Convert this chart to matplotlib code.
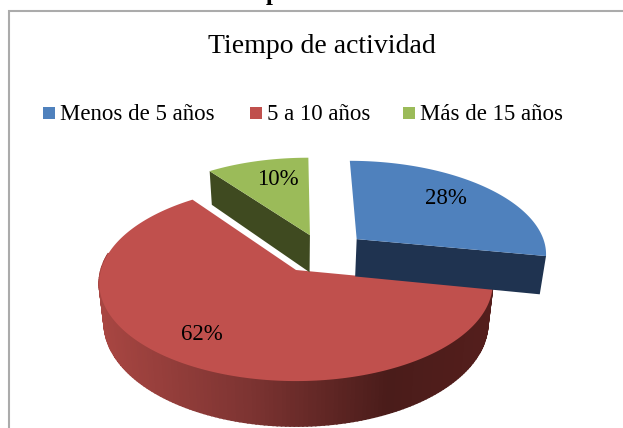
import numpy as np
import matplotlib
matplotlib.use('Agg')
import matplotlib.pyplot as plt
from matplotlib.patches import Polygon, Rectangle

plt.rcParams['font.family'] = 'Liberation Serif'

categories = ['Menos de 5 años', '5 a 10 años', 'Más de 15 años']
values = [28, 62, 10]
labels = ['28%', '62%', '10%']
title = 'Tiempo de actividad'
clipped_heading = 'Tiempo de actividad'

top_colors = ['#4F81BD', '#C0504D', '#9BBB59']
side_colors = ['#1F3350', '#7A2E2B', '#3F4A20']

# explosion of each slice on the unit disc
offsets = [(0.325, 0.335), (0, 0), (0.075, 0.38)]
label_pos = [(446, 198), (202, 335), (278, 179)]

# perspective of the disc
cx, cy = 296, 270
rx, ry = 195, 96.3
k = 0.133
depth = 39


def project(u, v, z=0):
    w = 1 + k * v
    x = cx + rx * u / w * (1 - 0.025 * z)
    y = cy - ry * v / w + depth * z / w
    return np.column_stack([x, y])


def slice_angles():
    edges = 90 - np.cumsum([0] + values) * 3.6
    return [(edges[i], edges[i + 1]) for i in range(len(values))]


def arc(a0, a1, off, z=0):
    t = np.radians(np.linspace(a0, a1, 200))
    return project(off[0] + np.cos(t), off[1] + np.sin(t), z)


def apex(off, z=0):
    return project(np.array([off[0]]), np.array([off[1]]), z)


def wall_color(x):
    # shading of the red outer wall, left to right
    stops_x = [100, 250, 390, 490]
    r = np.interp(x, stops_x, [168, 125, 74, 84])
    g = np.interp(x, stops_x, [70, 52, 28, 30])
    b = np.interp(x, stops_x, [66, 50, 26, 28])
    return (r / 255, g / 255, b / 255)


fig = plt.figure(figsize=(6.23, 4.28), dpi=100)
ax = fig.add_axes([0, 0, 1, 1])
ax.set_xlim(0, 623)
ax.set_ylim(428, 0)
ax.axis('off')

ax.text(320, 0.3, clipped_heading, fontsize=18, fontweight='bold', ha='center', va='baseline')
ax.add_patch(Rectangle((9, 11), 700, 500, fc='white', ec='#ABABAB', lw=1.5))
ax.text(322, 53, title, fontsize=20, ha='center', va='baseline')

for sq, tx, name, col in zip([43, 250, 403], [59.5, 267, 420], categories, top_colors):
    ax.add_patch(Rectangle((sq, 107), 11.5, 11.5, fc=col, ec='none'))
    ax.text(tx, 120, name, fontsize=16.5, ha='left', va='baseline')

angles = slice_angles()

# red wall first, cut into thin strips for the shading
a0, a1 = angles[1]
top = arc(a0, a1, offsets[1])
bottom = arc(a0, a1, offsets[1], 1)
for i in range(len(top) - 1):
    if top[i + 1, 1] < 270 and bottom[i + 1, 1] < 290:
        continue
    quad = [top[i], top[i + 1], bottom[i + 1], bottom[i]]
    ax.add_patch(Polygon(quad, fc=wall_color(top[i, 0]), ec=wall_color(top[i, 0]), lw=1.2))
ax.add_patch(Polygon(np.vstack([apex(offsets[1]), top]), fc=top_colors[1], ec='none'))

# green slice
a0, a1 = angles[2]
off = offsets[2]
ax.add_patch(Polygon(np.vstack([apex(off), arc(a0, a0, off)[:1], arc(a0, a0, off, 1)[:1], apex(off, 1)]),
                     fc=side_colors[2], ec='none'))
ax.add_patch(Polygon(np.vstack([apex(off), arc(a0, a1, off)]), fc=top_colors[2], ec='none'))

# blue slice
a0, a1 = angles[0]
off = offsets[0]
ax.add_patch(Polygon(np.vstack([arc(a1, a1, off)[:1], arc(a1, a1, off, 1)[:1], apex(off, 1), apex(off)]),
                     fc=side_colors[0], ec='none'))
ax.add_patch(Polygon(np.vstack([apex(off), arc(a0, a1, off)]), fc=top_colors[0], ec='none'))

for (x, y), txt in zip(label_pos, labels):
    ax.text(x, y, txt, fontsize=16.5, ha='center', va='center', color='black')

fig.savefig('out.png', dpi=100)
